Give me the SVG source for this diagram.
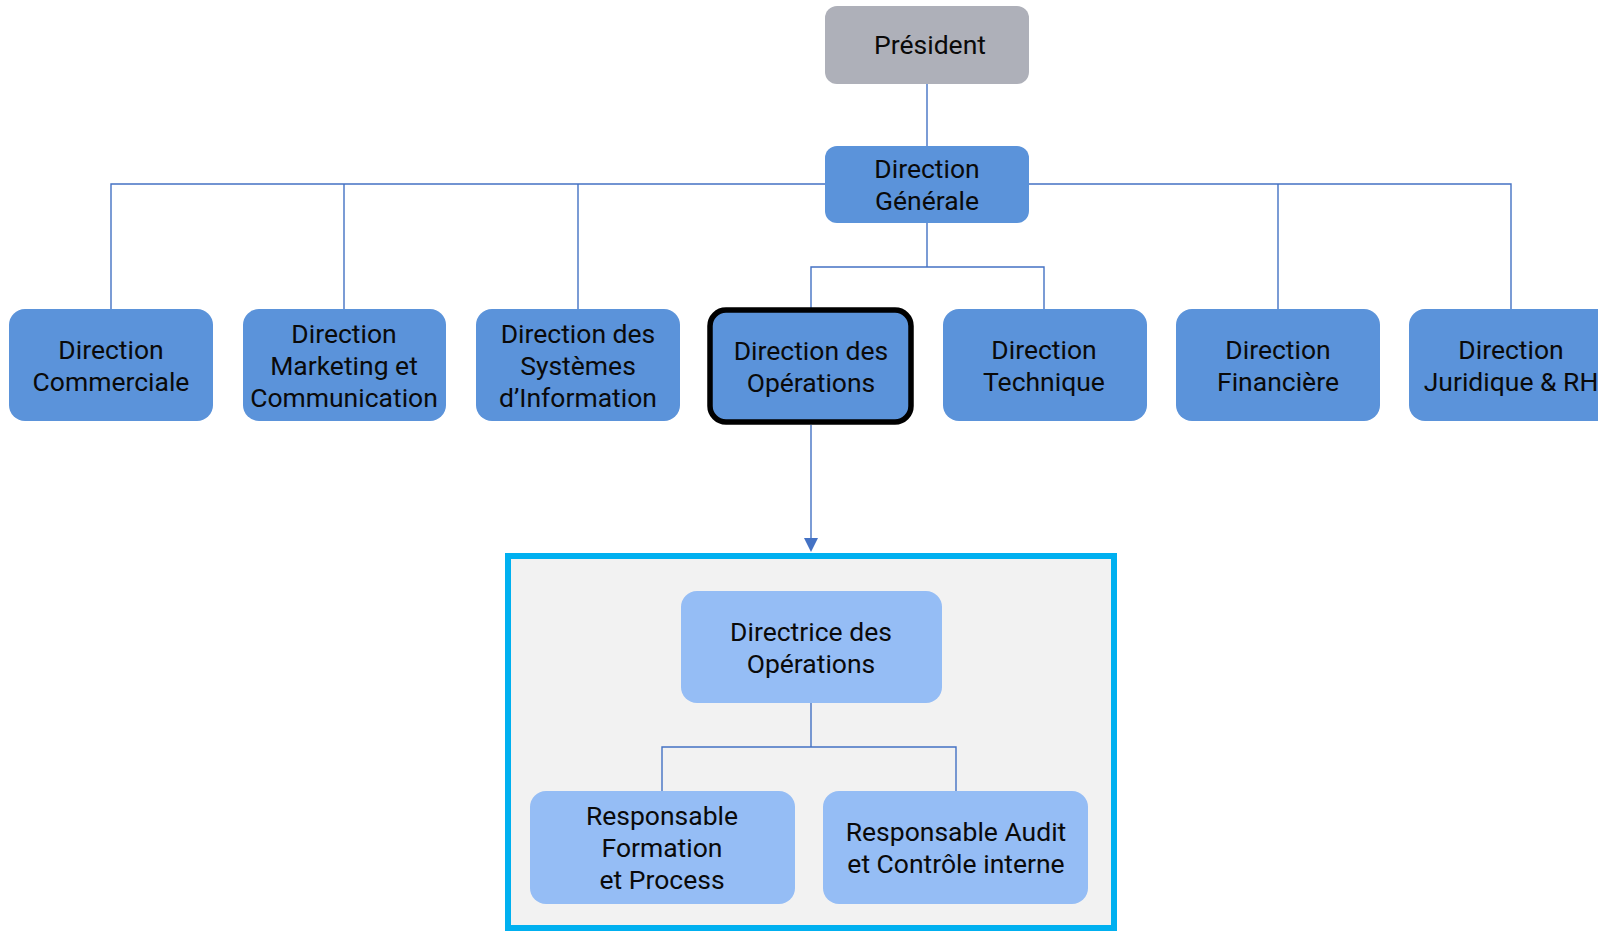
<svg xmlns="http://www.w3.org/2000/svg" width="1598" height="931" viewBox="0 0 1598 931">
<defs>
<style>
.box{fill:#5B93DA}
.light{fill:#95BDF5}
.pres{fill:#AEB0B9}
.t{font-family:Roboto,"Liberation Sans",sans-serif;font-size:26.5px;fill:#0a0a0a;text-anchor:middle}
.ln{fill:none;stroke:#4472C4;stroke-width:1.4}
</style>
</defs>
<rect width="1598" height="931" fill="#fff"/>
<g id="container">
<rect x="508" y="556" width="606" height="372" fill="#F2F2F2" stroke="#00B0F0" stroke-width="6"/>
</g>
<g id="connectors">
<path class="ln" d="M927,84 V146"/>
<path class="ln" d="M111,309 V184 H1511 V309 M344,184 V309 M578,184 V309 M1278,184 V309"/>
<path class="ln" d="M927,223 V267 H811 V309 M927,267 H1044 V309"/>
<path class="ln" d="M811,425 V540"/>
<path d="M804,538 L818,538 L811,552 Z" fill="#4472C4"/>
<path class="ln" d="M811,703 V747 H662 V791 M811,747 H956 V791"/>
</g>
<g id="president">
<rect class="pres" x="825" y="6" width="204" height="78" rx="12"/>
<text class="t" x="930" y="54">Président</text>
</g>
<g id="dg">
<rect class="box" x="825" y="146" width="204" height="77" rx="12"/>
<text class="t" x="927" y="178">Direction</text>
<text class="t" x="927" y="210">Générale</text>
</g>
<g id="commerciale">
<rect class="box" x="9" y="309" width="204" height="112" rx="16"/>
<text class="t" x="111" y="359">Direction</text>
<text class="t" x="111" y="391">Commerciale</text>
</g>
<g id="marketing">
<rect class="box" x="243" y="309" width="203" height="112" rx="16"/>
<text class="t" x="344" y="343">Direction</text>
<text class="t" x="344" y="375">Marketing et</text>
<text class="t" x="344" y="407">Communication</text>
</g>
<g id="si">
<rect class="box" x="476" y="309" width="204" height="112" rx="16"/>
<text class="t" x="578" y="343">Direction des</text>
<text class="t" x="578" y="375">Systèmes</text>
<text class="t" x="578" y="407">d’Information</text>
</g>
<g id="operations">
<rect class="box" x="710" y="310" width="201" height="112" rx="16" stroke="#000" stroke-width="5.5"/>
<text class="t" x="811" y="360">Direction des</text>
<text class="t" x="811" y="392">Opérations</text>
</g>
<g id="technique">
<rect class="box" x="943" y="309" width="204" height="112" rx="16"/>
<text class="t" x="1044" y="359">Direction</text>
<text class="t" x="1044" y="391">Technique</text>
</g>
<g id="financiere">
<rect class="box" x="1176" y="309" width="204" height="112" rx="16"/>
<text class="t" x="1278" y="359">Direction</text>
<text class="t" x="1278" y="391">Financière</text>
</g>
<g id="juridique">
<rect class="box" x="1409" y="309" width="204" height="112" rx="16"/>
<text class="t" x="1511" y="359">Direction</text>
<text class="t" x="1511" y="391">Juridique &amp; RH</text>
</g>
<g id="directrice">
<rect class="light" x="681" y="591" width="261" height="112" rx="16"/>
<text class="t" x="811" y="641">Directrice des</text>
<text class="t" x="811" y="673">Opérations</text>
</g>
<g id="formation">
<rect class="light" x="530" y="791" width="265" height="113" rx="16"/>
<text class="t" x="662" y="825">Responsable</text>
<text class="t" x="662" y="857">Formation</text>
<text class="t" x="662" y="889">et Process</text>
</g>
<g id="audit">
<rect class="light" x="823" y="791" width="265" height="113" rx="16"/>
<text class="t" x="956" y="841">Responsable Audit</text>
<text class="t" x="956" y="873">et Contrôle interne</text>
</g>
</svg>
